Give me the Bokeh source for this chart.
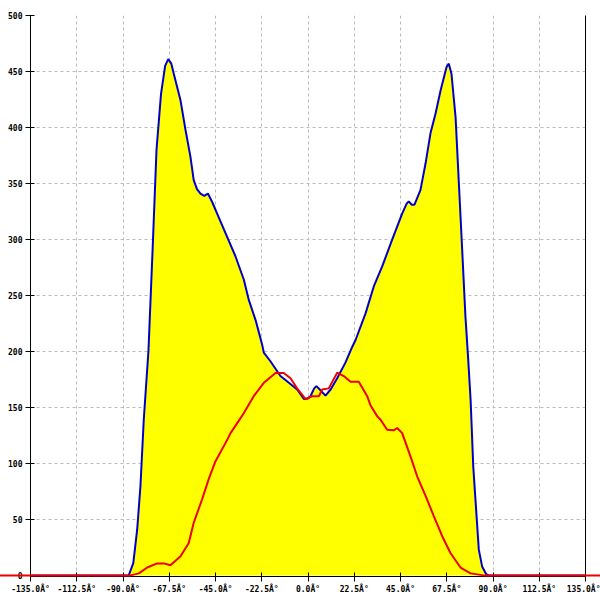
from bokeh.embed import file_html
from bokeh.models import FixedTicker, LinearAxis, Range1d
from bokeh.plotting import figure
from bokeh.resources import INLINE

# angle (deg) / count
blue_x = [-180, -88, -87.2, -85, -83.1, -81.5, -79.9, -77.6, -75.6, -73.7, -71.5, -69.5,
          -68.0, -66.5, -65.3, -62, -59.6, -57.2, -55.6, -54, -52.3, -50.5, -48.7, -46.5,
          -44.2, -39.3, -35.3, -31.2, -28.8, -25.5, -22.3, -21.5, -18.2, -13.4, -9.3, -5.3,
          -2.0, 0, 1.2, 3, 4.1, 5.7, 8.5, 11, 14.2, 18.2, 21.5, 23.1, 28, 32, 36.1, 41,
          45.8, 48, 49, 50.5, 51.8, 54.7, 57.2, 59.6, 62, 64.5, 67.4, 68.5, 69.8, 71.8,
          73.4, 75, 76.6, 77.9, 79.1, 80.4, 82, 83.1, 84.7, 86.7, 88, 180]
blue_y = [0, 0, 0, 11, 41, 80, 139, 201, 291, 380, 430, 455,
          461, 457, 448, 424, 398, 374, 353, 345, 341, 339, 341, 333,
          323, 302, 285, 264, 246, 228, 206, 199, 191, 178, 172, 166,
          157.5, 158, 160, 167, 169, 166, 160.5, 166, 176, 190, 204, 210, 234, 258, 276, 300,
          323, 332, 334, 331, 331, 344, 368, 395, 412, 433, 454, 457, 448, 409,
          350, 291, 231, 194, 157, 97, 53, 23, 8, 1, 0, 0]

red_x = [-180, -88, -86.3, -82.3, -78.2, -73.4, -70.1, -66.9, -62, -58, -55.6, -51.5,
         -48.3, -45, -39.3, -37.7, -33.7, -31.2, -26.4, -21.5, -15.8, -11.8, -8.5, -5.3,
         -1.2, 2.0, 5.3, 6.9, 10.1, 14.2, 17.4, 20.7, 24.7, 28.8, 30.4, 33.7, 35.3, 38.5,
         41.7, 43.4, 45.8, 49.9, 53.1, 57.2, 61.2, 65.3, 69.3, 74.2, 79.1, 85.5, 180]
red_y = [0, 0, 0, 1.8, 7, 10.7, 10.7, 9, 17, 29, 47, 68,
         86, 102, 121, 127, 138, 145, 160, 172, 180.7, 180.7, 176, 167,
         157.5, 160, 160, 166, 167, 181, 178, 173, 173, 160, 152, 142, 139, 130,
         129.5, 131.6, 127, 106, 88.5, 71, 53, 35, 20, 7, 1.8, 0, 0]

x_ticks = [-135, -112.5, -90, -67.5, -45, -22.5, 0, 22.5, 45, 67.5, 90, 112.5, 135]
x_labels = ["-135.0Â°", "-112.5Â°", "-90.0Â°", "-67.5Â°", "-45.0Â°", "-22.5Â°", "0.0Â°",
            "22.5Â°", "45.0Â°", "67.5Â°", "90.0Â°", "112.5Â°", "135.0Â°"]
y_ticks = [0, 50, 100, 150, 200, 250, 300, 350, 400, 450, 500]

FONT = "DejaVu Sans Mono"

p = figure(width=600, height=600, output_backend="svg", toolbar_location=None,
           x_range=Range1d(-135, 135), y_range=Range1d(-1, 500),
           min_border_left=30, min_border_right=15, min_border_top=15, min_border_bottom=24)
p.outline_line_color = None
p.background_fill_color = "white"

p.varea(x=blue_x, y1=0, y2=blue_y, fill_color="#ffff00")
p.line(blue_x, blue_y, line_color="#0000cc", line_width=2)
p.line(red_x, red_y, line_color="#ee0000", line_width=2, level="overlay")

for ax in (p.xaxis[0], p.yaxis[0]):
    ax.axis_line_color = "black"
    ax.major_tick_line_color = "black"
    ax.major_tick_in = 4
    ax.major_tick_out = 5
    ax.minor_tick_line_color = None
    ax.major_label_text_font = FONT
    ax.major_label_text_font_size = "8px"
    ax.major_label_text_font_style = "bold"
    ax.major_label_text_color = "black"
    ax.major_label_standoff = 3

p.xaxis.ticker = FixedTicker(ticks=x_ticks)
p.xaxis.major_label_overrides = dict(zip(x_ticks, x_labels))
p.yaxis.ticker = FixedTicker(ticks=y_ticks)

right = LinearAxis(ticker=FixedTicker(ticks=[]), major_tick_line_color=None,
                   minor_tick_line_color=None, axis_line_color="black")
p.add_layout(right, "right")

p.xgrid.ticker = FixedTicker(ticks=x_ticks[1:-1])
p.ygrid.ticker = FixedTicker(ticks=y_ticks[1:])
for g in (p.xgrid[0], p.ygrid[0]):
    g.grid_line_color = "#bbbbbb"
    g.grid_line_dash = "3 3"
    g.grid_line_width = 1

open("out.html", "w").write(file_html(p, INLINE))
